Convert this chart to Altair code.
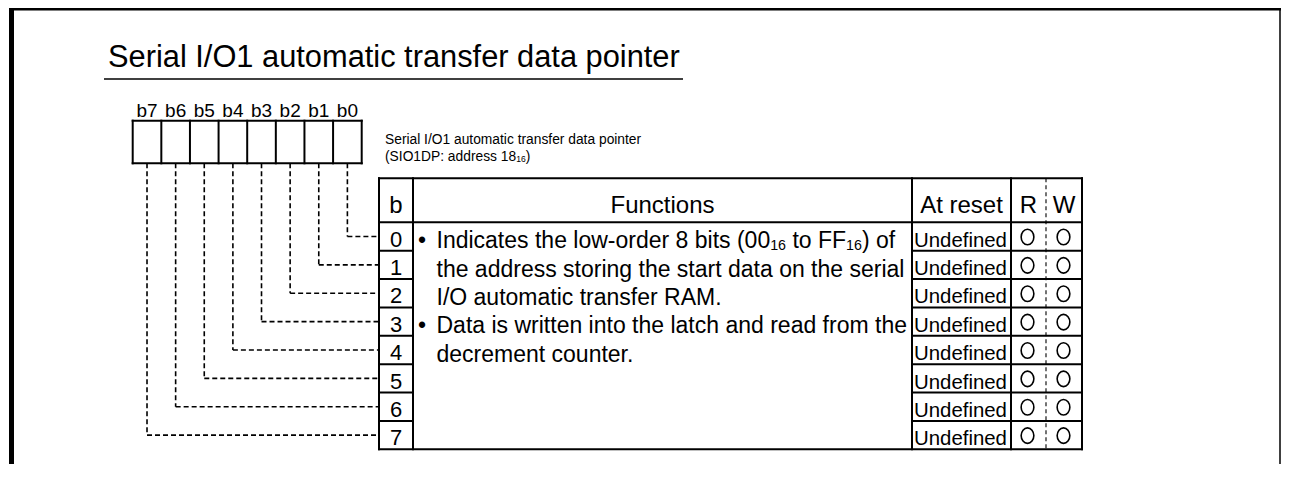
import re
import altair as alt
import pandas as pd

# ---------------- data (texts and categories) ----------------
title_text = "Serial I/O1 automatic transfer data pointer"
register_caption = [
    "Serial I/O1 automatic transfer data pointer",
    "(SIO1DP: address 18_{16})",
]
bit_labels = ["b7", "b6", "b5", "b4", "b3", "b2", "b1", "b0"]
header_labels = ["b", "Functions", "At reset", "R", "W"]
bit_numbers = ["0", "1", "2", "3", "4", "5", "6", "7"]
function_lines = [
    "Indicates the low-order 8 bits (00_{16} to FF_{16}) of",
    "the address storing the start data on the serial",
    "I/O automatic transfer RAM.",
    "Data is written into the latch and read from the",
    "decrement counter.",
]
function_bullets = [True, False, False, True, False]
reset_values = ["Undefined", "Undefined", "Undefined", "Undefined",
                "Undefined", "Undefined", "Undefined", "Undefined"]
read_access = ["O", "O", "O", "O", "O", "O", "O", "O"]
write_access = ["O", "O", "O", "O", "O", "O", "O", "O"]

# ---------------- layout (page pixel coordinates) ----------------
X0, Y0, CW, CH = 8, 8, 1273, 456
FONT = "Liberation Sans"

BOX_L, BOX_R, BOX_T, BOX_B = 132.7, 361.7, 120.7, 163.3
CELL = (BOX_R - BOX_L) / 8
COLS = [379, 413, 912, 1011, 1082]
RW_DIV = 1046
T_TOP, H_BOT, ROW_H = 178.3, 222.3, 28.375
ROW_EDGES = [H_BOT + ROW_H * k for k in range(9)]

ARIAL = {" ": 278, "(": 333, ")": 333, "-": 333, ".": 278, "/": 278, ":": 278,
         "A": 667, "D": 722, "F": 611, "I": 278, "O": 778, "P": 667, "S": 667,
         "a": 556, "b": 556, "c": 500, "d": 556, "e": 556, "f": 278, "g": 556,
         "h": 556, "i": 222, "l": 222, "m": 833, "n": 556, "o": 556, "p": 556,
         "r": 333, "s": 500, "t": 278, "u": 556, "w": 722, "•": 350}


def text_width(s, fs):
    return sum(ARIAL.get(c, 556) for c in s) * fs / 1000.0


def segments(line, x, y, fs, rows):
    parts = re.split(r"_\{(\d+)\}", line)
    for k, p in enumerate(parts):
        if not p:
            continue
        if k % 2 == 0:
            stripped = p.lstrip(" ")
            lead = len(p) - len(stripped)
            x0 = x + text_width(" " * lead, fs)
            rows.append(dict(x=x0, y=y, text=stripped.rstrip(" "), fs=fs))
            x += text_width(p, fs)
        else:
            sfs = fs * 0.62
            rows.append(dict(x=x, y=y + fs * 0.1, text=p, fs=sfs))
            x += text_width(p, sfs)


XS = alt.Scale(domain=[X0, X0 + CW], nice=False, zero=False)
YS = alt.Scale(domain=[Y0, Y0 + CH], reverse=True, nice=False, zero=False)


def xy():
    return dict(x=alt.X("x:Q", scale=XS, axis=None),
                y=alt.Y("y:Q", scale=YS, axis=None))


def rules(df, **mk):
    return alt.Chart(pd.DataFrame(df)).mark_rule(**mk).encode(
        **xy(), x2="x2:Q", y2="y2:Q")


def texts(df, align):
    return alt.Chart(pd.DataFrame(df)).mark_text(
        align=align, baseline="alphabetic", font=FONT, color="black"
    ).encode(**xy(), text="text:N", size=alt.Size("fs:Q", scale=None))


# frame
frame = alt.Chart(pd.DataFrame([
    dict(x=9, x2=X0 + CW, y=Y0, y2=10.5),
    dict(x=9, x2=14, y=Y0, y2=Y0 + CH),
])).mark_rect(color="black").encode(**xy(), x2="x2:Q", y2="y2:Q")
right_border = rules([dict(x=1280, x2=1280, y=Y0, y2=Y0 + CH)],
                     color="black", strokeWidth=1.5)

# title underline
underline = rules([dict(x=104, x2=683, y=79, y2=79)], color="black", strokeWidth=1.3)

# solid lines: bit box and table
solid = []
for i in range(9):
    xv = BOX_L + CELL * i
    solid.append(dict(x=xv, x2=xv, y=BOX_T, y2=BOX_B))
for yv in (BOX_T, BOX_B):
    solid.append(dict(x=BOX_L, x2=BOX_R, y=yv, y2=yv))
for xv in COLS:
    solid.append(dict(x=xv, x2=xv, y=T_TOP, y2=ROW_EDGES[-1]))
for yv in (T_TOP, H_BOT, ROW_EDGES[-1]):
    solid.append(dict(x=COLS[0], x2=COLS[-1], y=yv, y2=yv))
for yv in ROW_EDGES[1:-1]:
    solid.append(dict(x=COLS[0], x2=COLS[1], y=yv, y2=yv))
    solid.append(dict(x=COLS[2], x2=COLS[-1], y=yv, y2=yv))
solid_layer = rules(solid, color="black", strokeWidth=2, strokeCap="square")

# R/W dashed divider
rw_layer = rules([dict(x=RW_DIV, x2=RW_DIV, y=T_TOP, y2=ROW_EDGES[-1])],
                 color="black", strokeWidth=1.1, strokeDash=[4, 3])

# dashed connectors from bits to rows
conn = []
for k, num in enumerate(bit_numbers):
    bit = int(num)
    cx = BOX_L + CELL * (7 - bit + 0.5)
    cy = ROW_EDGES[k] + ROW_H / 2
    conn.append(dict(x=cx, x2=cx, y=BOX_B, y2=cy))
    conn.append(dict(x=cx, x2=COLS[0], y=cy, y2=cy))
conn_layer = rules(conn, color="black", strokeWidth=1.6, strokeDash=[5, 3])

# texts
left_txt = [dict(x=108, y=67, text=title_text, fs=30.8)]
segments(register_caption[0], 385, 144, 13.8, left_txt)
segments(register_caption[1], 385, 161, 13.8, left_txt)
for k, line in enumerate(function_lines):
    base = ROW_EDGES[k + 1] - 2.5
    if function_bullets[k]:
        left_txt.append(dict(x=418, y=base, text="•", fs=23))
    segments(line, 436.5, base, 23, left_txt)
for k, val in enumerate(reset_values):
    left_txt.append(dict(x=914, y=ROW_EDGES[k + 1] - 4, text=val, fs=20.4))

center_txt = []
for i, lab in enumerate(bit_labels):
    center_txt.append(dict(x=BOX_L + CELL * (i + 0.5), y=117, text=lab, fs=19))
head_x = [(COLS[0] + COLS[1]) / 2, (COLS[1] + COLS[2]) / 2,
          (COLS[2] + COLS[3]) / 2, (COLS[3] + RW_DIV) / 2, (RW_DIV + COLS[4]) / 2]
for hx, lab in zip(head_x, header_labels):
    center_txt.append(dict(x=hx, y=212.5, text=lab, fs=24))
for k, num in enumerate(bit_numbers):
    center_txt.append(dict(x=head_x[0], y=ROW_EDGES[k + 1] - 4, text=num, fs=22))

# access circles (slightly tall ellipses, as drawn in the reference)
ELLIPSE = "M0.82,0 A0.82,1 0 1,1 -0.82,0 A0.82,1 0 1,1 0.82,0 Z"
circ = []
for k in range(8):
    cy = ROW_EDGES[k] + ROW_H / 2 + 0.5
    if read_access[k] == "O":
        circ.append(dict(x=1027.5, y=cy))
    if write_access[k] == "O":
        circ.append(dict(x=1063.5, y=cy))
circ_layer = alt.Chart(pd.DataFrame(circ)).mark_point(
    shape=ELLIPSE, size=240, filled=False, stroke="black", strokeWidth=1.6, opacity=1
).encode(**xy())

chart = alt.layer(
    frame, right_border, underline, conn_layer, solid_layer, rw_layer,
    texts(left_txt, "left"), texts(center_txt, "center"), circ_layer,
).properties(
    width=CW, height=CH, padding=0,
    autosize=alt.AutoSizeParams(type="none"),
).configure_view(stroke=None)

chart.save("out.html", embed_options={"renderer": "svg", "actions": False})
